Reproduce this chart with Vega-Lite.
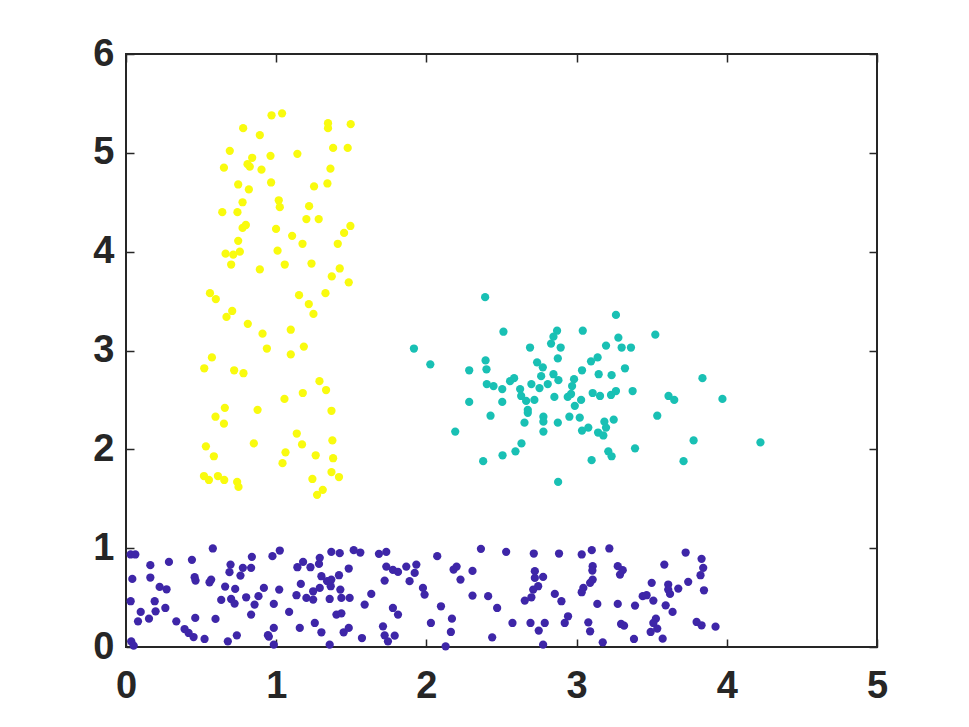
{
  "$schema": "https://vega.github.io/schema/vega-lite/v6.json",
  "width": 751,
  "height": 593,
  "autosize": {"type": "none"},
  "padding": {"left": 126, "top": 54, "right": 92, "bottom": 80},
  "background": "white",
  "config": {
    "view": {"stroke": "#262626", "strokeWidth": 2},
    "axis": {
      "domain": false,
      "grid": false,
      "ticks": true,
      "tickSize": -8,
      "tickWidth": 1.5,
      "tickColor": "#262626",
      "labelFont": "Liberation Sans",
      "labelFontWeight": "bold",
      "labelFontSize": 38,
      "labelColor": "#262626",
      "labelFlush": false,
      "labelOverlap": false,
      "title": null
    },
    "axisX": {"labelPadding": 28},
    "axisY": {"labelPadding": 20}
  },
  "datasets": {
    "pts": [
      {"x":0.969,"y":5.38,"g":"C"},{"x":1.039,"y":5.40,"g":"C"},{"x":0.780,"y":5.25,"g":"C"},{"x":0.891,"y":5.18,"g":"C"},{"x":1.345,"y":5.30,"g":"C"},{"x":1.345,"y":5.25,"g":"C"},{"x":1.496,"y":5.29,"g":"C"},{"x":0.691,"y":5.02,"g":"C"},{"x":0.840,"y":4.95,"g":"C"},{"x":0.809,"y":4.885,"g":"C"},
      {"x":0.824,"y":4.86,"g":"C"},{"x":0.962,"y":4.97,"g":"C"},{"x":1.141,"y":4.99,"g":"C"},{"x":1.379,"y":5.05,"g":"C"},{"x":1.476,"y":5.05,"g":"C"},{"x":0.652,"y":4.85,"g":"C"},{"x":0.902,"y":4.83,"g":"C"},{"x":1.361,"y":4.84,"g":"C"},{"x":0.747,"y":4.68,"g":"C"},{"x":0.818,"y":4.63,"g":"C"},
      {"x":0.966,"y":4.70,"g":"C"},{"x":1.252,"y":4.66,"g":"C"},{"x":1.341,"y":4.69,"g":"C"},{"x":0.776,"y":4.50,"g":"C"},{"x":1.017,"y":4.52,"g":"C"},{"x":1.024,"y":4.45,"g":"C"},{"x":1.219,"y":4.46,"g":"C"},{"x":0.641,"y":4.40,"g":"C"},{"x":0.742,"y":4.40,"g":"C"},{"x":1.201,"y":4.33,"g":"C"},
      {"x":1.283,"y":4.33,"g":"C"},{"x":0.776,"y":4.24,"g":"C"},{"x":0.798,"y":4.27,"g":"C"},{"x":0.999,"y":4.23,"g":"C"},{"x":1.106,"y":4.16,"g":"C"},{"x":1.175,"y":4.08,"g":"C"},{"x":1.494,"y":4.26,"g":"C"},{"x":1.452,"y":4.19,"g":"C"},{"x":1.410,"y":4.08,"g":"C"},{"x":0.747,"y":4.11,"g":"C"},
      {"x":0.663,"y":3.98,"g":"C"},{"x":0.714,"y":3.97,"g":"C"},{"x":0.758,"y":4.00,"g":"C"},{"x":1.009,"y":4.01,"g":"C"},{"x":0.700,"y":3.87,"g":"C"},{"x":0.891,"y":3.82,"g":"C"},{"x":1.057,"y":3.87,"g":"C"},{"x":1.235,"y":3.88,"g":"C"},{"x":1.423,"y":3.83,"g":"C"},{"x":1.370,"y":3.75,"g":"C"},
      {"x":1.483,"y":3.69,"g":"C"},{"x":0.559,"y":3.58,"g":"C"},{"x":0.598,"y":3.52,"g":"C"},{"x":1.152,"y":3.56,"g":"C"},{"x":1.328,"y":3.58,"g":"C"},{"x":1.217,"y":3.47,"g":"C"},{"x":1.248,"y":3.37,"g":"C"},{"x":0.707,"y":3.40,"g":"C"},{"x":0.669,"y":3.34,"g":"C"},{"x":0.811,"y":3.27,"g":"C"},
      {"x":0.909,"y":3.17,"g":"C"},{"x":1.097,"y":3.21,"g":"C"},{"x":0.938,"y":3.02,"g":"C"},{"x":1.097,"y":2.96,"g":"C"},{"x":1.184,"y":3.04,"g":"C"},{"x":0.572,"y":2.93,"g":"C"},{"x":0.521,"y":2.82,"g":"C"},{"x":0.720,"y":2.80,"g":"C"},{"x":0.782,"y":2.77,"g":"C"},{"x":1.288,"y":2.69,"g":"C"},
      {"x":1.332,"y":2.60,"g":"C"},{"x":1.055,"y":2.51,"g":"C"},{"x":1.177,"y":2.57,"g":"C"},{"x":0.658,"y":2.42,"g":"C"},{"x":0.596,"y":2.33,"g":"C"},{"x":0.652,"y":2.26,"g":"C"},{"x":0.876,"y":2.40,"g":"C"},{"x":1.368,"y":2.39,"g":"C"},{"x":1.137,"y":2.16,"g":"C"},{"x":1.172,"y":2.05,"g":"C"},
      {"x":1.374,"y":2.09,"g":"C"},{"x":0.532,"y":2.03,"g":"C"},{"x":0.851,"y":2.06,"g":"C"},{"x":0.585,"y":1.93,"g":"C"},{"x":1.062,"y":1.97,"g":"C"},{"x":1.042,"y":1.86,"g":"C"},{"x":1.263,"y":1.94,"g":"C"},{"x":1.379,"y":1.91,"g":"C"},{"x":0.519,"y":1.73,"g":"C"},{"x":0.552,"y":1.69,"g":"C"},
      {"x":0.612,"y":1.73,"g":"C"},{"x":0.654,"y":1.69,"g":"C"},{"x":0.740,"y":1.67,"g":"C"},{"x":0.749,"y":1.62,"g":"C"},{"x":1.368,"y":1.77,"g":"C"},{"x":1.418,"y":1.72,"g":"C"},{"x":1.241,"y":1.70,"g":"C"},{"x":1.310,"y":1.59,"g":"C"},{"x":1.272,"y":1.54,"g":"C"},

      {"x":2.391,"y":3.54,"g":"B"},{"x":2.513,"y":3.19,"g":"B"},{"x":2.870,"y":3.20,"g":"B"},{"x":2.846,"y":3.14,"g":"B"},{"x":2.830,"y":3.07,"g":"B"},{"x":2.894,"y":3.03,"g":"B"},{"x":3.041,"y":3.20,"g":"B"},{"x":1.917,"y":3.02,"g":"B"},{"x":2.026,"y":2.86,"g":"B"},{"x":2.690,"y":3.03,"g":"B"},
      {"x":2.875,"y":2.92,"g":"B"},{"x":2.394,"y":2.90,"g":"B"},{"x":2.400,"y":2.81,"g":"B"},{"x":2.285,"y":2.80,"g":"B"},{"x":2.737,"y":2.88,"g":"B"},{"x":2.775,"y":2.83,"g":"B"},{"x":3.036,"y":2.80,"g":"B"},{"x":3.096,"y":2.89,"g":"B"},{"x":3.140,"y":2.93,"g":"B"},{"x":2.846,"y":2.76,"g":"B"},
      {"x":2.764,"y":2.74,"g":"B"},{"x":2.879,"y":2.70,"g":"B"},{"x":3.147,"y":2.76,"g":"B"},{"x":2.584,"y":2.72,"g":"B"},{"x":2.557,"y":2.69,"g":"B"},{"x":2.402,"y":2.66,"g":"B"},{"x":2.447,"y":2.64,"g":"B"},{"x":2.505,"y":2.61,"g":"B"},{"x":2.699,"y":2.66,"g":"B"},{"x":2.753,"y":2.62,"g":"B"},
      {"x":2.808,"y":2.66,"g":"B"},{"x":2.983,"y":2.71,"g":"B"},{"x":2.970,"y":2.64,"g":"B"},{"x":2.624,"y":2.61,"g":"B"},{"x":2.631,"y":2.54,"g":"B"},{"x":2.852,"y":2.53,"g":"B"},{"x":2.941,"y":2.53,"g":"B"},{"x":2.963,"y":2.56,"g":"B"},{"x":3.030,"y":2.50,"g":"B"},{"x":3.107,"y":2.57,"g":"B"},
      {"x":2.505,"y":2.48,"g":"B"},{"x":2.285,"y":2.48,"g":"B"},{"x":2.664,"y":2.49,"g":"B"},{"x":2.719,"y":2.50,"g":"B"},{"x":2.675,"y":2.40,"g":"B"},{"x":2.988,"y":2.44,"g":"B"},{"x":2.675,"y":2.37,"g":"B"},{"x":2.427,"y":2.34,"g":"B"},{"x":2.779,"y":2.33,"g":"B"},{"x":2.779,"y":2.28,"g":"B"},
      {"x":2.653,"y":2.27,"g":"B"},{"x":2.952,"y":2.33,"g":"B"},{"x":2.875,"y":2.27,"g":"B"},{"x":3.021,"y":2.32,"g":"B"},{"x":2.779,"y":2.18,"g":"B"},{"x":2.192,"y":2.18,"g":"B"},{"x":3.036,"y":2.19,"g":"B"},{"x":3.078,"y":2.22,"g":"B"},{"x":3.143,"y":2.17,"g":"B"},{"x":2.633,"y":2.06,"g":"B"},
      {"x":2.593,"y":1.98,"g":"B"},{"x":2.507,"y":1.94,"g":"B"},{"x":2.378,"y":1.88,"g":"B"},{"x":3.100,"y":1.89,"g":"B"},{"x":2.877,"y":1.67,"g":"B"},{"x":3.262,"y":3.36,"g":"B"},{"x":3.524,"y":3.16,"g":"B"},{"x":3.278,"y":3.13,"g":"B"},{"x":3.196,"y":3.05,"g":"B"},{"x":3.300,"y":3.03,"g":"B"},
      {"x":3.362,"y":3.03,"g":"B"},{"x":3.322,"y":2.82,"g":"B"},{"x":3.233,"y":2.75,"g":"B"},{"x":3.838,"y":2.72,"g":"B"},{"x":3.156,"y":2.54,"g":"B"},{"x":3.229,"y":2.55,"g":"B"},{"x":3.262,"y":2.59,"g":"B"},{"x":3.373,"y":2.59,"g":"B"},{"x":3.612,"y":2.54,"g":"B"},{"x":3.650,"y":2.50,"g":"B"},
      {"x":3.971,"y":2.51,"g":"B"},{"x":3.537,"y":2.34,"g":"B"},{"x":3.185,"y":2.28,"g":"B"},{"x":3.247,"y":2.30,"g":"B"},{"x":3.196,"y":2.22,"g":"B"},{"x":3.178,"y":2.14,"g":"B"},{"x":3.779,"y":2.09,"g":"B"},{"x":4.224,"y":2.07,"g":"B"},{"x":3.389,"y":2.01,"g":"B"},{"x":3.211,"y":1.98,"g":"B"},
      {"x":3.233,"y":1.93,"g":"B"},{"x":3.712,"y":1.88,"g":"B"},

      {"x":0.031,"y":0.936,"g":"A"},{"x":0.062,"y":0.936,"g":"A"},{"x":0.578,"y":0.997,"g":"A"},{"x":0.162,"y":0.828,"g":"A"},{"x":0.286,"y":0.861,"g":"A"},{"x":0.439,"y":0.882,"g":"A"},{"x":0.696,"y":0.834,"g":"A"},{"x":0.689,"y":0.757,"g":"A"},{"x":0.778,"y":0.801,"g":"A"},{"x":0.833,"y":0.801,"g":"A"},
      {"x":0.838,"y":0.912,"g":"A"},{"x":0.762,"y":0.723,"g":"A"},{"x":0.042,"y":0.689,"g":"A"},{"x":0.162,"y":0.703,"g":"A"},{"x":0.457,"y":0.706,"g":"A"},{"x":0.463,"y":0.672,"g":"A"},{"x":0.556,"y":0.655,"g":"A"},{"x":0.567,"y":0.682,"g":"A"},{"x":0.224,"y":0.608,"g":"A"},{"x":0.270,"y":0.584,"g":"A"},
      {"x":0.660,"y":0.611,"g":"A"},{"x":0.727,"y":0.588,"g":"A"},{"x":0.918,"y":0.598,"g":"A"},{"x":0.031,"y":0.463,"g":"A"},{"x":0.191,"y":0.463,"g":"A"},{"x":0.262,"y":0.395,"g":"A"},{"x":0.197,"y":0.361,"g":"A"},{"x":0.098,"y":0.355,"g":"A"},{"x":0.080,"y":0.260,"g":"A"},{"x":0.153,"y":0.287,"g":"A"},
      {"x":0.634,"y":0.476,"g":"A"},{"x":0.700,"y":0.486,"g":"A"},{"x":0.723,"y":0.439,"g":"A"},{"x":0.800,"y":0.503,"g":"A"},{"x":0.882,"y":0.514,"g":"A"},{"x":0.856,"y":0.429,"g":"A"},{"x":0.335,"y":0.260,"g":"A"},{"x":0.461,"y":0.294,"g":"A"},{"x":0.596,"y":0.284,"g":"A"},{"x":0.833,"y":0.328,"g":"A"},
      {"x":0.390,"y":0.182,"g":"A"},{"x":0.417,"y":0.142,"g":"A"},{"x":0.450,"y":0.101,"g":"A"},{"x":0.523,"y":0.081,"g":"A"},{"x":0.678,"y":0.057,"g":"A"},{"x":0.738,"y":0.118,"g":"A"},{"x":0.951,"y":0.105,"g":"A"},{"x":0.035,"y":0.057,"g":"A"},{"x":0.051,"y":0.014,"g":"A"},
      {"x":0.975,"y":0.919,"g":"A"},{"x":1.024,"y":0.976,"g":"A"},{"x":1.367,"y":0.963,"g":"A"},{"x":1.423,"y":0.949,"g":"A"},{"x":1.516,"y":0.980,"g":"A"},{"x":1.560,"y":0.956,"g":"A"},{"x":1.684,"y":0.943,"g":"A"},{"x":1.733,"y":0.963,"g":"A"},{"x":1.141,"y":0.807,"g":"A"},{"x":1.179,"y":0.861,"g":"A"},
      {"x":1.228,"y":0.807,"g":"A"},{"x":1.290,"y":0.902,"g":"A"},{"x":1.285,"y":0.841,"g":"A"},{"x":1.483,"y":0.794,"g":"A"},{"x":1.733,"y":0.814,"g":"A"},{"x":1.777,"y":0.780,"g":"A"},{"x":1.811,"y":0.760,"g":"A"},{"x":1.866,"y":0.814,"g":"A"},{"x":1.933,"y":0.834,"g":"A"},{"x":1.922,"y":0.750,"g":"A"},
      {"x":1.888,"y":0.666,"g":"A"},{"x":1.164,"y":0.638,"g":"A"},{"x":1.301,"y":0.716,"g":"A"},{"x":1.339,"y":0.666,"g":"A"},{"x":1.367,"y":0.682,"g":"A"},{"x":1.418,"y":0.726,"g":"A"},{"x":1.290,"y":0.598,"g":"A"},{"x":1.246,"y":0.564,"g":"A"},{"x":1.363,"y":0.615,"g":"A"},{"x":1.427,"y":0.581,"g":"A"},
      {"x":1.020,"y":0.581,"g":"A"},{"x":1.135,"y":0.524,"g":"A"},{"x":1.201,"y":0.497,"g":"A"},{"x":1.246,"y":0.480,"g":"A"},{"x":1.356,"y":0.486,"g":"A"},{"x":1.434,"y":0.497,"g":"A"},{"x":1.489,"y":0.497,"g":"A"},{"x":1.633,"y":0.537,"g":"A"},{"x":1.722,"y":0.672,"g":"A"},{"x":1.977,"y":0.598,"g":"A"},
      {"x":1.988,"y":0.530,"g":"A"},{"x":0.984,"y":0.436,"g":"A"},{"x":1.086,"y":0.355,"g":"A"},{"x":1.589,"y":0.429,"g":"A"},{"x":1.401,"y":0.328,"g":"A"},{"x":1.434,"y":0.341,"g":"A"},{"x":1.777,"y":0.395,"g":"A"},{"x":1.811,"y":0.328,"g":"A"},{"x":1.257,"y":0.243,"g":"A"},{"x":1.157,"y":0.193,"g":"A"},
      {"x":1.301,"y":0.149,"g":"A"},{"x":1.449,"y":0.149,"g":"A"},{"x":1.483,"y":0.193,"g":"A"},{"x":1.571,"y":0.091,"g":"A"},{"x":1.711,"y":0.209,"g":"A"},{"x":1.722,"y":0.118,"g":"A"},{"x":1.789,"y":0.115,"g":"A"},{"x":1.744,"y":0.057,"g":"A"},{"x":1.356,"y":0.024,"g":"A"},{"x":0.984,"y":0.193,"g":"A"},
      {"x":0.984,"y":0.024,"g":"A"},{"x":0.945,"y":0.120,"g":"A"},
      {"x":2.072,"y":0.919,"g":"A"},{"x":2.363,"y":0.993,"g":"A"},{"x":2.531,"y":0.963,"g":"A"},{"x":2.715,"y":0.946,"g":"A"},{"x":2.883,"y":0.946,"g":"A"},{"x":2.181,"y":0.784,"g":"A"},{"x":2.201,"y":0.814,"g":"A"},{"x":2.307,"y":0.770,"g":"A"},{"x":2.227,"y":0.682,"g":"A"},{"x":2.722,"y":0.767,"g":"A"},
      {"x":2.722,"y":0.699,"g":"A"},{"x":2.777,"y":0.709,"g":"A"},{"x":2.744,"y":0.615,"g":"A"},{"x":2.711,"y":0.581,"g":"A"},{"x":2.307,"y":0.520,"g":"A"},{"x":2.411,"y":0.514,"g":"A"},{"x":2.471,"y":0.395,"g":"A"},{"x":2.655,"y":0.470,"g":"A"},{"x":2.699,"y":0.503,"g":"A"},{"x":2.855,"y":0.537,"g":"A"},
      {"x":2.899,"y":0.463,"g":"A"},{"x":2.097,"y":0.412,"g":"A"},{"x":2.030,"y":0.243,"g":"A"},{"x":2.170,"y":0.287,"g":"A"},{"x":2.163,"y":0.152,"g":"A"},{"x":2.438,"y":0.098,"g":"A"},{"x":2.128,"y":0.007,"g":"A"},{"x":2.573,"y":0.243,"g":"A"},{"x":2.693,"y":0.243,"g":"A"},{"x":2.748,"y":0.166,"g":"A"},
      {"x":2.788,"y":0.243,"g":"A"},{"x":2.921,"y":0.243,"g":"A"},{"x":2.943,"y":0.311,"g":"A"},{"x":2.777,"y":0.024,"g":"A"},
      {"x":3.034,"y":0.936,"g":"A"},{"x":3.101,"y":0.980,"g":"A"},{"x":3.218,"y":0.997,"g":"A"},{"x":3.107,"y":0.818,"g":"A"},{"x":3.105,"y":0.774,"g":"A"},{"x":3.274,"y":0.818,"g":"A"},{"x":3.307,"y":0.777,"g":"A"},{"x":3.289,"y":0.733,"g":"A"},{"x":3.726,"y":0.956,"g":"A"},{"x":3.584,"y":0.834,"g":"A"},
      {"x":3.832,"y":0.892,"g":"A"},{"x":3.843,"y":0.801,"g":"A"},{"x":3.825,"y":0.726,"g":"A"},{"x":3.107,"y":0.682,"g":"A"},{"x":3.090,"y":0.649,"g":"A"},{"x":3.045,"y":0.598,"g":"A"},{"x":3.034,"y":0.554,"g":"A"},{"x":3.500,"y":0.649,"g":"A"},{"x":3.610,"y":0.632,"g":"A"},{"x":3.610,"y":0.581,"g":"A"},
      {"x":3.622,"y":0.537,"g":"A"},{"x":3.677,"y":0.591,"g":"A"},{"x":3.743,"y":0.659,"g":"A"},{"x":3.848,"y":0.574,"g":"A"},{"x":3.440,"y":0.514,"g":"A"},{"x":3.466,"y":0.524,"g":"A"},{"x":3.511,"y":0.470,"g":"A"},{"x":3.138,"y":0.436,"g":"A"},{"x":3.274,"y":0.436,"g":"A"},{"x":3.389,"y":0.419,"g":"A"},
      {"x":3.593,"y":0.422,"g":"A"},{"x":3.639,"y":0.355,"g":"A"},{"x":3.078,"y":0.250,"g":"A"},{"x":3.090,"y":0.159,"g":"A"},{"x":3.296,"y":0.233,"g":"A"},{"x":3.316,"y":0.216,"g":"A"},{"x":3.528,"y":0.287,"g":"A"},{"x":3.511,"y":0.243,"g":"A"},{"x":3.537,"y":0.186,"g":"A"},{"x":3.493,"y":0.152,"g":"A"},
      {"x":3.799,"y":0.253,"g":"A"},{"x":3.832,"y":0.220,"g":"A"},{"x":3.925,"y":0.206,"g":"A"},{"x":3.174,"y":0.047,"g":"A"},{"x":3.382,"y":0.081,"g":"A"},{"x":3.573,"y":0.084,"g":"A"}
    ]
  },
  "data": {"name": "pts"},
  "layer": [
    {
      "mark": {"type": "point", "filled": true, "size": 68, "opacity": 1, "strokeWidth": 0},
      "encoding": {
        "x": {"field": "x", "type": "quantitative", "scale": {"domain": [0, 5], "nice": false, "zero": false},
              "axis": {"orient": "bottom", "values": [0, 1, 2, 3, 4, 5]}},
        "y": {"field": "y", "type": "quantitative", "scale": {"domain": [0, 6], "nice": false, "zero": false},
              "axis": {"orient": "left", "values": [0, 1, 2, 3, 4, 5, 6]}},
        "color": {"field": "g", "type": "nominal", "legend": null,
                  "scale": {"domain": ["A", "B", "C"], "range": ["#3e26a8", "#19c0b4", "#f9fb0e"]}}
      }
    },
    {
      "mark": {"type": "point", "opacity": 0},
      "encoding": {
        "x": {"field": "x", "type": "quantitative", "axis": {"orient": "top", "values": [0, 1, 2, 3, 4, 5], "labels": false}},
        "y": {"field": "y", "type": "quantitative", "axis": {"orient": "right", "values": [0, 1, 2, 3, 4, 5, 6], "labels": false}}
      }
    }
  ],
  "resolve": {"axis": {"x": "independent", "y": "independent"}}
}
